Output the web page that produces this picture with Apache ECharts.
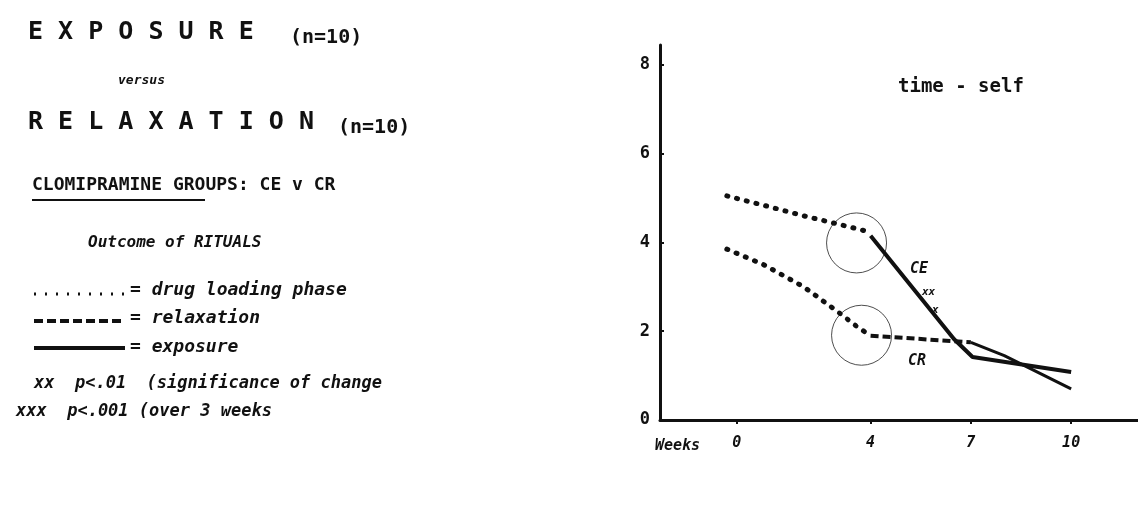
<!DOCTYPE html><html><head><meta charset="utf-8"><script src="https://cdn.jsdelivr.net/npm/echarts@6/dist/echarts.min.js"></script></head><body style="margin:0;background:#fff"><div id="c" style="width:1138px;height:524px"></div><script>
const weekTicks=[0,4,7,10];
const yTicks=[0,2,4,6,8];
const ceLoading=[[-0.3,5.05],[1,4.8],[2,4.6],[3,4.42],[3.9,4.25]];
const ceExposure=[[4,4.15],[6.5,1.82],[7.05,1.42],[10,1.08]];
const crLoading=[[-0.3,3.85],[0.8,3.5],[2,3.0],[3,2.45],[3.6,2.1],[4,1.9]];
const crRelax=[[4,1.9],[7,1.75]];
const crExposure=[[7,1.75],[8,1.45],[10,0.7]];
const circles=[[3.58,3.99],[3.73,1.91]];
const F='"DejaVu Sans Mono", monospace';
const c=echarts.init(document.getElementById('c'));
const t=(x,y,s,sz,st)=>({type:'text',left:x,top:y,style:Object.assign({text:s,font:'bold '+sz+'px '+F,fill:'#111'},st||{})});
c.setOption({animation:false,
grid:{left:660,right:0,top:45,bottom:104},
xAxis:{type:'value',min:-2.3,max:12,axisLine:{lineStyle:{color:'#111',width:3}},splitLine:{show:false},
 axisTick:{customValues:weekTicks,length:4,lineStyle:{color:'#111',width:2}},
 axisLabel:{customValues:weekTicks,color:'#111',fontFamily:F,fontStyle:'italic',fontWeight:'bold',fontSize:15,margin:16}},
yAxis:{type:'value',min:0,max:8.45,axisLine:{show:true,onZero:false,lineStyle:{color:'#111',width:3}},splitLine:{show:false},
 axisTick:{customValues:yTicks,length:4,inside:true,lineStyle:{color:'#111',width:2}},
 axisLabel:{customValues:yTicks,color:'#111',fontFamily:F,fontWeight:'bold',fontSize:17,margin:10}},
series:[
 {type:'line',data:ceLoading,symbol:'none',lineStyle:{color:'#111',width:5,type:[1,9],cap:'round'}},
 {type:'line',data:crLoading,symbol:'none',lineStyle:{color:'#111',width:5,type:[1,9],cap:'round'}},
 {type:'line',data:ceExposure,symbol:'none',lineStyle:{color:'#111',width:4}},
 {type:'line',data:crRelax,symbol:'none',lineStyle:{color:'#111',width:4,type:[8,4]}},
 {type:'line',data:crExposure,symbol:'none',lineStyle:{color:'#111',width:3}},
 {type:'scatter',data:circles,symbol:'circle',symbolSize:60,itemStyle:{color:'transparent',borderColor:'#222',borderWidth:1}}
]});
const ln=(x1,x2,y,dash,w)=>({type:'line',shape:{x1:x1,y1:y,x2:x2,y2:y},style:{stroke:'#111',lineWidth:w,lineDash:dash}});
c.setOption({graphic:[
 t(28,20,'E X P O S U R E',25),t(290,28,'(n=10)',20),
 t(118,74,'versus',13,{font:'italic bold 13px '+F}),
 t(28,110,'R E L A X A T I O N',25),t(338,118,'(n=10)',20),
 t(32,176,'CLOMIPRAMINE GROUPS: CE v CR',18),ln(32,205,200,null,2),
 t(88,235,'Outcome of RITUALS',16,{font:'italic bold 16px '+F}),
 ln(34,125,294,[2,9],3),t(130,281,'= drug loading phase',18,{font:'italic bold 18px '+F}),
 ln(34,125,321,[9,4],4),t(130,309,'= relaxation',18,{font:'italic bold 18px '+F}),
 ln(34,125,348,null,4),t(130,338,'= exposure',18,{font:'italic bold 18px '+F}),
 t(34,375,'xx  p<.01  (significance of change',17,{font:'italic bold 17px '+F}),
 t(16,403,'xxx  p<.001 (over 3 weeks',17,{font:'italic bold 17px '+F}),
 t(898,78,'time - self',19),
 t(910,262,'CE',15,{font:'italic bold 15px '+F}),
 t(908,354,'CR',15,{font:'italic bold 15px '+F}),
 t(922,287,'xx',11,{font:'italic bold 11px '+F}),t(932,305,'x',11,{font:'italic bold 11px '+F}),
 t(655,439,'Weeks',15,{font:'italic bold 15px '+F})
]});
</script></body></html>
